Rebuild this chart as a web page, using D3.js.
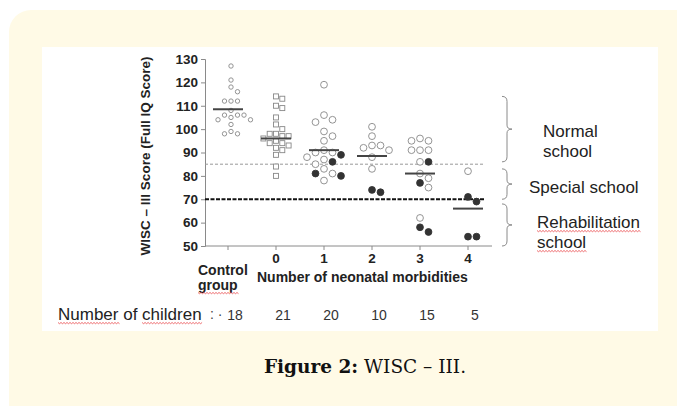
<!DOCTYPE html>
<html>
<head>
<meta charset="utf-8">
<script src="https://cdn.jsdelivr.net/npm/d3@7"></script>
<style>
  body { margin: 0; background: #fff; }
  svg { display: block; font-family: "Liberation Sans", Arial, sans-serif; }
</style>
</head>
<body>
<svg width="677" height="406"></svg>
<script>
// categories along the x axis
var categories = ["Control", "0", "1", "2", "3", "4"];
var childCounts = [18, 21, 20, 10, 15, 5];
var yTicks = [50, 60, 70, 80, 90, 100, 110, 120, 130];

// WISC-III full IQ scores
var controlScores = [127, 121, 118, 116, 112, 112, 112, 108, 106, 106, 106, 105, 104, 104, 102, 99, 98, 98];
var zeroScores = [114, 113, 110, 109, 105, 102, 100, 98, 98, 97, 97, 96, 95, 94, 94, 93, 92, 91, 89, 84, 80];
var oneOpen = [119, 106, 104, 103, 99, 97, 95, 91, 90, 90, 88, 87, 85, 83, 81, 78];
var oneFilled = [89, 86, 81, 80];
var twoOpen = [101, 97, 93, 93, 92, 91, 88, 83];
var twoFilled = [74, 73];
var threeOpen = [96, 95, 95, 91, 91, 91, 86, 81, 79, 75, 62];
var threeFilled = [86, 77, 58, 56];
var fourOpen = [82];
var fourFilled = [71, 69, 54, 54];
var groupMeans = [108.5, 96, 91, 88.5, 81, 66];

// cut-off lines and school zones
var cutoffs = [85, 70];
var zoneNames = [["Normal", "school"], ["Special school"], ["Rehabilitation", "school"]];
var zoneTops = [114, 83, 68];
var zoneBottoms = [86, 70, 50];

var svg = d3.select("svg");

// page panel
svg.append("rect").attr("x", 9).attr("y", 10).attr("width", 690).attr("height", 420)
    .attr("rx", 22).attr("fill", "#fffae6");
svg.append("rect").attr("x", 42).attr("y", 47).attr("width", 616).attr("height", 284)
    .attr("fill", "#fff");

var x = d3.scalePoint().domain(categories).range([228, 468]);
var y = d3.scaleLinear().domain([50, 130]).range([246, 59]);

var axisColor = "#8a8a8a";

// y axis
var yAxis = svg.append("g").attr("transform", "translate(205,0)")
    .call(d3.axisLeft(y).tickValues(yTicks).tickSize(4).tickPadding(3));
yAxis.select(".domain").attr("stroke", axisColor);
yAxis.selectAll(".tick line").attr("stroke", axisColor);
yAxis.selectAll(".tick text").attr("font-size", 13.5).attr("font-weight", "bold")
    .attr("fill", "#222").attr("font-family", "Liberation Sans, Arial, sans-serif");

// x axis line + ticks
svg.append("line").attr("x1", 205).attr("x2", 492).attr("y1", 246).attr("y2", 246)
    .attr("stroke", axisColor);
svg.selectAll(".xtick").data(categories).enter().append("line")
    .attr("x1", d => x(d)).attr("x2", d => x(d))
    .attr("y1", 246).attr("y2", 250).attr("stroke", axisColor);

svg.selectAll(".xlab").data(categories.slice(1)).enter().append("text")
    .attr("x", d => x(d)).attr("y", 263).attr("text-anchor", "middle")
    .attr("font-size", 13.5).attr("font-weight", "bold").attr("fill", "#222")
    .text(d => d);

var ctl = svg.append("text").attr("x", 198).attr("y", 275)
    .attr("font-size", 14).attr("font-weight", "bold").attr("fill", "#222");
ctl.append("tspan").text("Control");
var grp = svg.append("text").attr("x", 198).attr("y", 290)
    .attr("font-size", 14).attr("font-weight", "bold").attr("fill", "#222").text("group");

svg.append("text").attr("x", 257).attr("y", 282)
    .attr("font-size", 14).attr("font-weight", "bold").attr("fill", "#222")
    .text("Number of neonatal morbidities");

// y title
svg.append("text").attr("transform", "translate(150,156) rotate(-90)")
    .attr("text-anchor", "middle").attr("font-size", 13.5).attr("font-weight", "bold")
    .attr("fill", "#222").text("WISC \u2013 III Score (Full IQ Score)");

// cut-off lines
svg.append("line").attr("x1", 205).attr("x2", 484)
    .attr("y1", y(cutoffs[0])).attr("y2", y(cutoffs[0]))
    .attr("stroke", "#999").attr("stroke-dasharray", "3,2");
svg.append("line").attr("x1", 205).attr("x2", 484)
    .attr("y1", y(cutoffs[1])).attr("y2", y(cutoffs[1]))
    .attr("stroke", "#111").attr("stroke-width", 1.8).attr("stroke-dasharray", "4,1.5");

// beeswarm-like dodge so points with close values sit side by side
function dodge(values, filled, gap) {
    var pts = values.map(v => ({v: v, filled: false}))
        .concat(filled.map(v => ({v: v, filled: true})));
    pts.sort((a, b) => b.v - a.v);
    var placed = [];
    pts.forEach(p => {
        var py = y(p.v);
        for (var k = 0; k < 40; k++) {
            var off = (k % 2 === 1 ? 1 : -1) * Math.ceil(k / 2) * gap;
            var ok = placed.every(q => (q.dx - off) * (q.dx - off) + (q.py - py) * (q.py - py) >= gap * gap);
            if (ok) { p.dx = off; p.py = py; placed.push(p); break; }
        }
    });
    return pts;
}

var groups = [
    {cat: "Control", open: controlScores, filled: [], shape: "small", gap: 6.5},
    {cat: "0", open: zeroScores, filled: [], shape: "square", gap: 6.3},
    {cat: "1", open: oneOpen, filled: oneFilled, shape: "circle", gap: 8.5},
    {cat: "2", open: twoOpen, filled: twoFilled, shape: "circle", gap: 8.5},
    {cat: "3", open: threeOpen, filled: threeFilled, shape: "circle", gap: 8.5},
    {cat: "4", open: fourOpen, filled: fourFilled, shape: "circle", gap: 8.5}
];

groups.forEach((g, i) => {
    var pts = dodge(g.open, g.filled, g.gap);
    var cx = x(g.cat) + (i === 0 ? 3 : 0);
    var layer = svg.append("g");
    if (g.shape === "square") {
        layer.selectAll("rect").data(pts).enter().append("rect")
            .attr("x", d => cx + d.dx - 2.5).attr("y", d => d.py - 2.5)
            .attr("width", 5).attr("height", 5)
            .attr("fill", "#fff").attr("stroke", "#888").attr("stroke-width", 0.9);
    } else {
        layer.selectAll("circle").data(pts).enter().append("circle")
            .attr("cx", d => cx + d.dx).attr("cy", d => d.py)
            .attr("r", g.shape === "small" ? 2.2 : 3.4)
            .attr("fill", d => d.filled ? "#333" : "#fff")
            .attr("stroke", d => d.filled ? "#333" : "#888")
            .attr("stroke-width", 0.9);
    }
    svg.append("line")
        .attr("x1", x(g.cat) - 15).attr("x2", x(g.cat) + 15)
        .attr("y1", y(groupMeans[i])).attr("y2", y(groupMeans[i]))
        .attr("stroke", "#444").attr("stroke-width", 2);
});

// braces and zone labels
function bracePath(x0, y1, y2) {
    var ym = (y1 + y2) / 2, w = 5;
    return "M" + x0 + "," + y1 +
        " Q" + (x0 + w) + "," + y1 + " " + (x0 + w) + "," + (y1 + 5) +
        " L" + (x0 + w) + "," + (ym - 4) +
        " Q" + (x0 + w) + "," + ym + " " + (x0 + 2 * w) + "," + ym +
        " Q" + (x0 + w) + "," + ym + " " + (x0 + w) + "," + (ym + 4) +
        " L" + (x0 + w) + "," + (y2 - 5) +
        " Q" + (x0 + w) + "," + y2 + " " + x0 + "," + y2;
}
zoneTops.forEach((t, i) => {
    svg.append("path").attr("d", bracePath(502, y(t), y(zoneBottoms[i])))
        .attr("fill", "none").attr("stroke", "#8a8a8a").attr("stroke-width", 1);
});

function wavy(x0, x1, yy) {
    var d = "M" + x0 + "," + yy;
    for (var xx = x0, k = 0; xx < x1; xx += 1.5, k++) {
        d += " L" + (xx + 1.5) + "," + (yy + (k % 2 ? 0 : 1.2));
    }
    return d;
}
function underline(textSel, charFrom, charTo) {
    var node = textSel.node();
    var start = node.getStartPositionOfChar(charFrom).x;
    var end = node.getEndPositionOfChar(charTo).x;
    var yy = node.getStartPositionOfChar(charFrom).y + 2.5;
    svg.append("path").attr("d", wavy(start, end, yy))
        .attr("fill", "none").attr("stroke", "#e8474b").attr("stroke-width", 0.8);
}

var zoneText = [
    {lines: zoneNames[0], x: 543, y: [137, 157], wavy: false},
    {lines: zoneNames[1], x: 529, y: [193], wavy: false},
    {lines: zoneNames[2], x: 537, y: [228, 248], wavy: true}
];
zoneText.forEach(z => {
    z.lines.forEach((ln, j) => {
        var t = svg.append("text").attr("x", z.x).attr("y", z.y[j])
            .attr("font-size", 17).attr("fill", "#222").text(ln);
        if (z.wavy) underline(t, 0, ln.length - 1);
    });
});

underline(grp, 0, 4);

// number of children row
var nc = svg.append("text").attr("x", 58).attr("y", 320)
    .attr("font-size", 17).attr("fill", "#222").text("Number of children");
underline(nc, 0, 5);
underline(nc, 10, 17);
svg.append("text").attr("x", 210).attr("y", 319).attr("font-size", 14)
    .attr("fill", "#444").text(": \u00b7");
svg.selectAll(".nchild").data(childCounts).enter().append("text")
    .attr("x", (d, i) => x(categories[i]) + 7).attr("y", 320)
    .attr("text-anchor", "middle").attr("font-size", 14).attr("fill", "#333")
    .text(d => d);

// caption
var cap = svg.append("text").attr("x", 365).attr("y", 373).attr("text-anchor", "middle")
    .attr("font-family", "DejaVu Serif, serif").attr("font-size", 18.5).attr("fill", "#111");
cap.append("tspan").attr("font-weight", "bold").text("Figure 2:");
cap.append("tspan").text(" WISC \u2013 III.");
</script>
</body>
</html>
